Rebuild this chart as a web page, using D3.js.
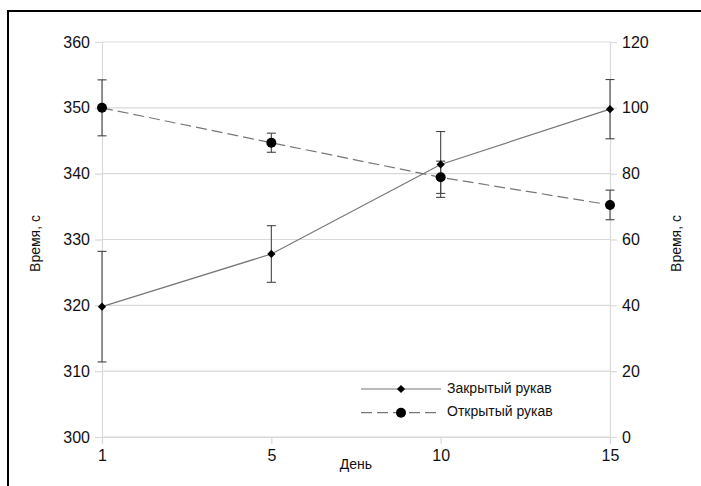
<!DOCTYPE html>
<html>
<head>
<meta charset="utf-8">
<script src="https://cdn.jsdelivr.net/npm/d3@7"></script>
<style>
  body { margin: 0; background: #fff; }
  svg { display: block; font-family: "Liberation Sans", Arial, sans-serif; }
</style>
</head>
<body>
<svg id="chart" width="701" height="486"></svg>
<script>
// days on the x axis (evenly spaced categories)
const days = [1, 5, 10, 15];
// closed arm, left axis (s)
const closedVals = [319.8, 327.8, 341.4, 349.8];
const closedErr = [8.4, 4.3, 5.0, 4.5];
// open arm, right axis (s)
const openVals = [100.0, 89.4, 78.9, 70.5];
const openErr = [8.5, 2.9, 4.9, 4.5];
const leftTicks = [300, 310, 320, 330, 340, 350, 360];
const rightTicks = [0, 20, 40, 60, 80, 100, 120];

const W = 701, H = 486;
const margin = { top: 42, right: 91, bottom: 49, left: 102 };
const svg = d3.select("#chart");

// outer frame (right and bottom edges fall outside the picture)
svg.append("rect")
  .attr("x", 8).attr("y", 11)
  .attr("width", 720).attr("height", 520)
  .attr("fill", "none")
  .attr("stroke", "#000")
  .attr("stroke-width", 2);

const x = d3.scalePoint().domain(days).range([margin.left, W - margin.right]);
const yL = d3.scaleLinear().domain([300, 360]).range([H - margin.bottom, margin.top]);
const yR = d3.scaleLinear().domain([0, 120]).range([H - margin.bottom, margin.top]);

const gridColor = "#d9d9d9";

// horizontal gridlines
svg.append("g").selectAll("line")
  .data(leftTicks)
  .join("line")
  .attr("x1", margin.left).attr("x2", W - margin.right)
  .attr("y1", d => yL(d)).attr("y2", d => yL(d))
  .attr("stroke", gridColor).attr("stroke-width", 1.2);

// left axis
const gL = svg.append("g")
  .attr("transform", `translate(${margin.left},0)`)
  .call(d3.axisLeft(yL).tickValues(leftTicks).tickSize(7).tickPadding(5));
// right axis
const gR = svg.append("g")
  .attr("transform", `translate(${W - margin.right},0)`)
  .call(d3.axisRight(yR).tickValues(rightTicks).tickSize(7).tickPadding(5));
// bottom axis
const gB = svg.append("g")
  .attr("transform", `translate(0,${H - margin.bottom})`)
  .call(d3.axisBottom(x).tickSize(7).tickPadding(6));

[gL, gR, gB].forEach(g => {
  g.selectAll(".domain").attr("stroke", gridColor).attr("stroke-width", 1.2);
  g.selectAll(".tick line").attr("stroke", gridColor).attr("stroke-width", 1.2);
  g.selectAll(".tick text")
    .attr("fill", "#111")
    .style("font-family", "Liberation Sans, Arial, sans-serif")
    .style("font-size", "16px");
});

// axis titles
svg.append("text")
  .attr("transform", `translate(36,${(margin.top + H - margin.bottom) / 2 + 4}) rotate(-90)`)
  .attr("text-anchor", "middle")
  .attr("dominant-baseline", "middle")
  .style("font-size", "14px")
  .attr("fill", "#111")
  .text("Время, с");
svg.append("text")
  .attr("transform", `translate(677,${(margin.top + H - margin.bottom) / 2 + 4}) rotate(-90)`)
  .attr("text-anchor", "middle")
  .attr("dominant-baseline", "middle")
  .style("font-size", "14px")
  .attr("fill", "#111")
  .text("Время, с");
svg.append("text")
  .attr("x", (margin.left + W - margin.right) / 2)
  .attr("y", 469)
  .attr("text-anchor", "middle")
  .style("font-size", "14px")
  .attr("fill", "#111")
  .text("День");

const closed = days.map((d, i) => ({ day: d, v: closedVals[i], e: closedErr[i] }));
const open = days.map((d, i) => ({ day: d, v: openVals[i], e: openErr[i] }));

const lineColor = "#777";

// lines
svg.append("path")
  .datum(closed)
  .attr("fill", "none")
  .attr("stroke", lineColor)
  .attr("stroke-width", 1.2)
  .attr("d", d3.line().x(d => x(d.day)).y(d => yL(d.v)));
svg.append("path")
  .datum(open)
  .attr("fill", "none")
  .attr("stroke", lineColor)
  .attr("stroke-width", 1.2)
  .attr("stroke-dasharray", "11,5")
  .attr("d", d3.line().x(d => x(d.day)).y(d => yR(d.v)));

// error bars
function errorBars(data, y) {
  const g = svg.append("g").attr("stroke", "#444").attr("stroke-width", 1.1);
  g.selectAll("line.v").data(data).join("line").attr("class", "v")
    .attr("x1", d => x(d.day)).attr("x2", d => x(d.day))
    .attr("y1", d => y(d.v - d.e)).attr("y2", d => y(d.v + d.e));
  g.selectAll("line.t").data(data).join("line").attr("class", "t")
    .attr("x1", d => x(d.day) - 4.5).attr("x2", d => x(d.day) + 4.5)
    .attr("y1", d => y(d.v + d.e)).attr("y2", d => y(d.v + d.e));
  g.selectAll("line.b").data(data).join("line").attr("class", "b")
    .attr("x1", d => x(d.day) - 4.5).attr("x2", d => x(d.day) + 4.5)
    .attr("y1", d => y(d.v - d.e)).attr("y2", d => y(d.v - d.e));
}
errorBars(closed, yL);
errorBars(open, yR);

// markers: square diamond (rotated square)
const diamond = d3.symbol().type(d3.symbolSquare).size(34);
svg.append("g").selectAll("path")
  .data(closed)
  .join("path")
  .attr("transform", d => `translate(${x(d.day)},${yL(d.v)}) rotate(45)`)
  .attr("d", diamond)
  .attr("fill", "#000");
svg.append("g").selectAll("circle")
  .data(open)
  .join("circle")
  .attr("cx", d => x(d.day))
  .attr("cy", d => yR(d.v))
  .attr("r", 5)
  .attr("fill", "#000");

// legend
const legend = [
  { label: "Закрытый рукав", dash: null, marker: "diamond" },
  { label: "Открытый рукав", dash: "11,5", marker: "circle" }
];
const lg = svg.append("g").attr("transform", "translate(361,389)");
legend.forEach((d, i) => {
  const row = lg.append("g").attr("transform", `translate(0,${i * 23.7})`);
  row.append("line")
    .attr("x1", 0).attr("x2", 80)
    .attr("stroke", lineColor).attr("stroke-width", 1.2)
    .attr("stroke-dasharray", d.dash);
  if (d.marker === "diamond") {
    row.append("path").attr("transform", "translate(40,0) rotate(45)").attr("d", diamond).attr("fill", "#000");
  } else {
    row.append("circle").attr("cx", 40).attr("r", 5).attr("fill", "#000");
  }
  row.append("text")
    .attr("x", 86).attr("y", 0)
    .attr("dominant-baseline", "middle")
    .style("font-size", "14px")
    .attr("fill", "#111")
    .text(d.label);
});
</script>
</body>
</html>
